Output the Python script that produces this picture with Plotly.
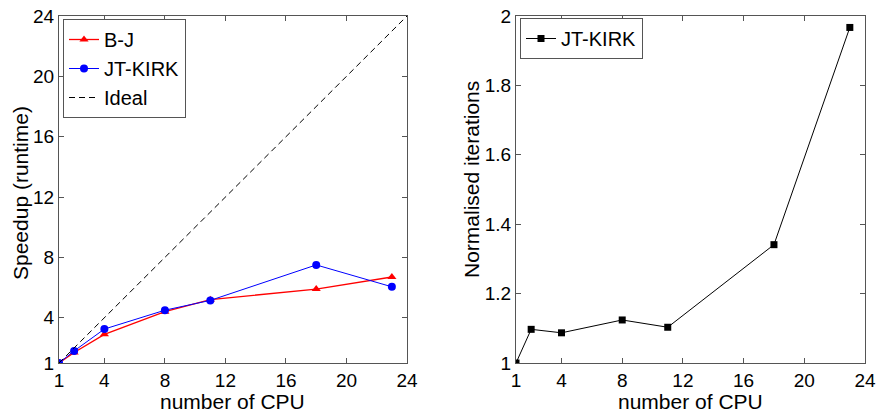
import plotly.graph_objects as go

cpus = [1, 2, 4, 8, 11, 18, 23]
speedup_bj = [1.0, 1.7, 2.9, 4.4, 5.2, 5.9, 6.7]
speedup_jt = [1.0, 1.8, 3.25, 4.5, 5.15, 7.5, 6.05]
ideal_x = [1, 24]
ideal_y = [1, 24]
norm_iter_jt = [1.0, 1.097, 1.087, 1.124, 1.103, 1.341, 1.967]

tick_vals = [1, 4, 8, 12, 16, 20, 24]
iter_ticks = [1, 1.2, 1.4, 1.6, 1.8, 2]
iter_tick_text = ["1", "1.2", "1.4", "1.6", "1.8", "2"]

FONT = "Liberation Sans, Arial, Helvetica, sans-serif"
W, H = 876, 413

def px(xp):
    return xp / W

def py(yp):
    return (H - yp) / H

fig = go.Figure()
fig.add_trace(go.Scatter(x=cpus, y=speedup_bj, mode="lines+markers", name="B-J",
                         line=dict(color="red", width=1.3),
                         marker=dict(symbol="triangle-up", size=8, color="red"),
                         xaxis="x", yaxis="y", legend="legend"))
fig.add_trace(go.Scatter(x=cpus, y=speedup_jt, mode="lines+markers", name="JT-KIRK",
                         line=dict(color="blue", width=1),
                         marker=dict(symbol="circle", size=8, color="blue"),
                         xaxis="x", yaxis="y", legend="legend"))
fig.add_trace(go.Scatter(x=ideal_x, y=ideal_y, mode="lines", name="Ideal",
                         line=dict(color="black", width=1, dash="6px,4px"),
                         xaxis="x", yaxis="y", legend="legend"))
fig.add_trace(go.Scatter(x=cpus, y=norm_iter_jt, mode="lines+markers", name="JT-KIRK",
                         line=dict(color="black", width=1),
                         marker=dict(symbol="square", size=7, color="black"),
                         xaxis="x2", yaxis="y2", legend="legend2"))

axis_common = dict(showgrid=False, zeroline=False, showline=True, linecolor="#555555",
                   linewidth=1, mirror="ticks", ticks="inside", ticklen=5,
                   tickcolor="#555555", ticklabeloverflow="allow", automargin=False,
                   tickfont=dict(size=19, color="black", family=FONT))

ydom = [py(363), py(16)]

title_font = dict(size=21, family=FONT, color="black")
annotations = [
    dict(text="number of CPU", x=px(232.5), y=py(401.5), xref="paper", yref="paper",
         xanchor="center", yanchor="middle", showarrow=False, font=title_font),
    dict(text="number of CPU", x=px(690), y=py(401.5), xref="paper", yref="paper",
         xanchor="center", yanchor="middle", showarrow=False, font=title_font),
    dict(text="Speedup (runtime)", x=px(20), y=py(193), xref="paper", yref="paper",
         xanchor="center", yanchor="middle", textangle=-90, showarrow=False, font=title_font),
    dict(text="Normalised iterations", x=px(471), y=py(180), xref="paper", yref="paper",
         xanchor="center", yanchor="middle", textangle=-90, showarrow=False, font=title_font),
]

fig.update_layout(
    width=W, height=H,
    margin=dict(l=0, r=0, t=0, b=0, autoexpand=False),
    paper_bgcolor="white", plot_bgcolor="white",
    font=dict(family=FONT, color="black"),
    showlegend=True,
    annotations=annotations,
    xaxis=dict(domain=[px(59), px(407)], range=[1, 24], tickvals=tick_vals, **axis_common),
    yaxis=dict(domain=ydom, range=[1, 24], tickvals=tick_vals, anchor="x", **axis_common),
    xaxis2=dict(domain=[px(516), px(865)], range=[1, 24], tickvals=tick_vals, anchor="y2",
                **axis_common),
    yaxis2=dict(domain=ydom, range=[1, 2], tickvals=iter_ticks, ticktext=iter_tick_text,
                anchor="x2", **axis_common),
    legend=dict(x=px(63), y=py(19), xanchor="left", yanchor="top",
                bordercolor="#555555", borderwidth=1, bgcolor="white",
                font=dict(size=20, family=FONT), tracegroupgap=0, itemwidth=30),
    legend2=dict(x=px(520), y=py(18), xanchor="left", yanchor="top",
                 bordercolor="#555555", borderwidth=1, bgcolor="white",
                 font=dict(size=20, family=FONT), itemwidth=30),
)

fig.write_html("out.html",
               config={"displayModeBar": False},
               post_script="document.body.style.margin='0';document.body.style.overflow='hidden';")
